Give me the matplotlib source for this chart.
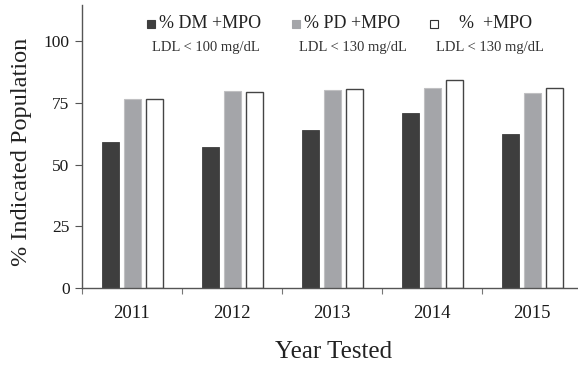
import matplotlib
matplotlib.use("Agg")
import matplotlib.pyplot as plt
from matplotlib.patches import Rectangle
import numpy as np

years = ["2011", "2012", "2013", "2014", "2015"]
dm_mpo = [59.2, 57.0, 64.0, 70.9, 62.3]
pd_mpo = [76.5, 79.8, 80.3, 80.9, 78.8]
all_mpo = [76.6, 79.4, 80.4, 84.1, 81.0]
series_labels = ["% DM +MPO", "% PD +MPO", "%  +MPO"]
series_sub = ["LDL < 100 mg/dL", "LDL < 130 mg/dL", "LDL < 130 mg/dL"]
yticks = [0, 25, 50, 75, 100]

plt.rcParams['font.family'] = ['Liberation Serif', 'DejaVu Serif']

fig = plt.figure(figsize=(5.78, 3.67), dpi=100)
ax = fig.add_axes([82/578, 79/367, (577-82)/578, (288-5)/367])

x = np.arange(len(years))
w = 0.17
step = 0.22
ax.bar(x - step, dm_mpo, w, color='#3e3e3e', edgecolor='#3e3e3e', linewidth=0.6)
ax.bar(x, pd_mpo, w, color='#a4a5a9', edgecolor='#c0c0c2', linewidth=0.8)
ax.bar(x + step, all_mpo, w, color='white', edgecolor='#444444', linewidth=1.0)

ax.set_xlim(-0.5, 4.45)
ax.set_ylim(0, 114.6)
ax.set_yticks(yticks)
ax.set_yticklabels([str(t) for t in yticks], fontsize=12.5, color='#1a1a1a')
ax.set_xticks(np.arange(-0.5, 4.0, 1.0))
ax.set_xticklabels([])
ax.set_xticks(x, minor=True)
ax.set_xticklabels(years, minor=True, fontsize=13.5, color='#1a1a1a')
ax.tick_params(axis='x', which='minor', length=0, pad=12)
ax.tick_params(axis='x', which='major', length=4, direction='out', color='#777777')
ax.tick_params(axis='y', length=5, direction='out', color='#555555', pad=4)

for s in ['top', 'right']:
    ax.spines[s].set_visible(False)
for s in ['left', 'bottom']:
    ax.spines[s].set_color('#555555')
    ax.spines[s].set_linewidth(1.0)

fig.text(22/578, 1 - 152/367, "% Indicated Population", rotation=90,
         ha='center', va='center', fontsize=17.5, color='#222222')
fig.text(334/578, 1 - 352/367, "Year Tested", ha='center', va='center',
         fontsize=18, color='#222222')

# legend (manual)
sq_x = [147, 292, 430]
txt_x = [159, 304, 459]
sub_cx = [206, 353, 490]
colors = ['#3e3e3e', '#a4a5a9', 'white']
edges = ['#3e3e3e', '#a4a5a9', '#333333']
for i in range(3):
    fig.patches.append(Rectangle((sq_x[i]/578, 1 - 28/367), 8/578, 8/367,
                                 transform=fig.transFigure, facecolor=colors[i],
                                 edgecolor=edges[i], linewidth=0.8))
    fig.text(txt_x[i]/578, 1 - 24/367, series_labels[i], ha='left', va='center',
             fontsize=13, color='#222222')
    fig.text(sub_cx[i]/578, 1 - 47/367, series_sub[i], ha='center', va='center',
             fontsize=10.5, color='#333333')

fig.savefig("out.png", dpi=100)
